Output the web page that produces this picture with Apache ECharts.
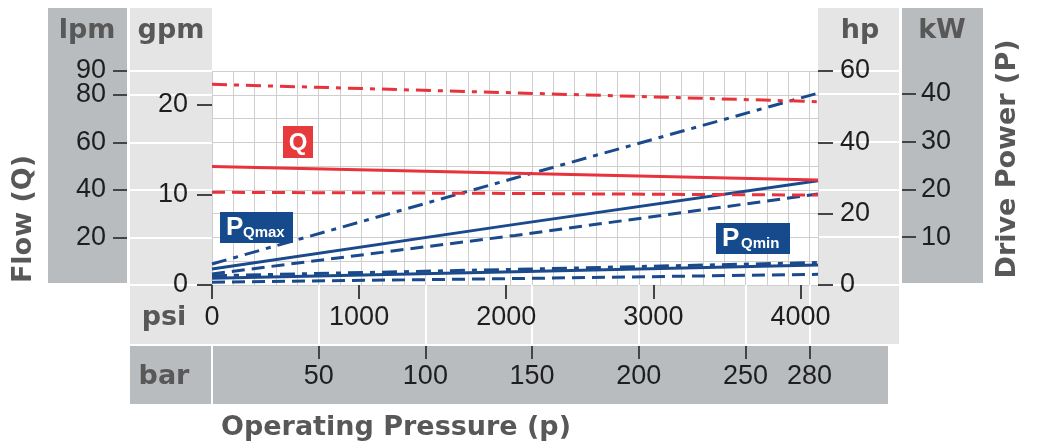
<!DOCTYPE html>
<html><head><meta charset="utf-8">
<script src="https://cdn.jsdelivr.net/npm/echarts@6/dist/echarts.min.js"></script>
<style>html,body{margin:0;padding:0;background:#fff}#c{width:1037px;height:441px}</style>
</head><body><div id="c"></div>
<script>
// ---- data ----
const pressureBar = [0, 142, 284];
// flow, lpm
const flowQmaxLpm = [84.4, 80.8, 77.1];   // red dash-dot
const flowQnomLpm = [49.8, 47.0, 44.2];   // red solid
const flowQminLpm = [39.0, 38.5, 37.8];   // red dashed
// drive power, hp
const powerHiDashDotHp = [5.9, 30.0, 53.8];
const powerHiSolidHp = [4.5, 17.0, 29.2];
const powerHiDashedHp = [3.1, 13.9, 25.5];
const powerLoDashDotHp = [2.6, 4.4, 6.3];
const powerLoSolidHp = [1.9, 3.7, 5.6];
const powerLoDashedHp = [0.8, 1.8, 3.0];
// tick labels
const lpmTicks = [20, 40, 60, 80, 90];
const gpmTicks = [0, 10, 20];
const hpTicks = [0, 20, 40, 60];
const kwTicks = [10, 20, 30, 40];
const psiTicks = [0, 1000, 2000, 3000, 4000];
const barTicks = [50, 100, 150, 200, 250, 280];

const BAR_MAX = 284, PSI_PER_BAR = 14.5037738, LPM_PER_GPM = 3.785411784, KW_PER_HP = 0.745699872;
const LPM_MAX = 90, HP_MAX = 60;

const RED = '#e8323c', BLUE = '#1a4a8c';
const tickFont = {fontFamily: '"Liberation Sans", Arial, sans-serif', fontSize: 27, lineHeight: 20, color: '#1e1e1e',
  formatter: v => String(v), showMaxLabel: true, showMinLabel: true, hideOverlap: false};
const tickLine = {color: '#444', width: 2};
const noLine = {show: false, onZero: false};
const hid = {axisLine: noLine, axisTick: {show: false}, axisLabel: {show: false}};

function ser(name, ys, yAxisIndex, color, type) {
  return {type: 'line', name, xAxisIndex: 1, yAxisIndex, symbol: 'none', silent: true, z: 3,
    data: pressureBar.map((x, i) => [x, ys[i]]),
    lineStyle: {color, width: 3, type}};
}
const DASHDOT = [15, 7, 5, 7], DASH = [13, 7];

const titleFont = 'bold 27px "DejaVu Sans", sans-serif';
const TG = '#585858';
function txt(text, x, y, rot, font) {
  return {type: 'text', x, y, rotation: rot || 0, silent: true, z: 5,
    style: {text, font: font || titleFont, fill: TG, align: 'center', verticalAlign: 'middle'}};
}
function rect(x, y, w, h, fill, z) {
  return {type: 'rect', shape: {x, y, width: w, height: h}, style: {fill}, silent: true, z: z == null ? -10 : z};
}
const LIGHT = '#e5e5e5', DARK = '#b9bcbf';

function visAxis(extra, ticks, len, margin) {
  return Object.assign({type: 'value', axisLine: noLine, splitLine: {show: false},
    axisTick: {show: true, length: len, customValues: ticks, lineStyle: tickLine},
    axisLabel: Object.assign({customValues: ticks, margin}, tickFont)}, extra);
}
// the two top lpm labels sit too close for one axis's overlap check, so split them over two axes
const lpmLower = lpmTicks.filter(v => v < LPM_MAX);
const lpmTop = lpmTicks.filter(v => v >= LPM_MAX);

const option = {
  animation: false,
  grid: [
    {left: 212, top: 71, width: 606, height: 214},
    {left: 130, top: 71, width: 82, height: 214},
    {left: 818, top: 71, width: 84, height: 214},
    {left: 212, top: 285, width: 606, height: 59}
  ],
  xAxis: [
    visAxis({gridIndex: 0, position: 'bottom', min: 0, max: BAR_MAX * PSI_PER_BAR}, psiTicks, 14, 23),
    visAxis({gridIndex: 0, position: 'bottom', offset: 61, min: 0, max: BAR_MAX}, barTicks, 13, 21),
    Object.assign({type: 'value', gridIndex: 0, min: 0, max: BAR_MAX, interval: 10,
      splitLine: {show: true, lineStyle: {color: '#cfcfcf', width: 1}}}, hid),
    {type: 'value', gridIndex: 1, show: false, min: 0, max: 1, axisLine: noLine},
    {type: 'value', gridIndex: 2, show: false, min: 0, max: 1, axisLine: noLine},
    Object.assign({type: 'value', gridIndex: 3, min: 0, max: BAR_MAX,
      splitLine: {show: true, lineStyle: {color: '#ffffff', width: 2}}}, hid,
      {axisTick: {show: false, customValues: barTicks}})
  ],
  yAxis: [
    visAxis({gridIndex: 0, position: 'left', offset: 85, min: 0, max: LPM_MAX}, lpmLower, 14, 21),
    visAxis({gridIndex: 0, position: 'left', offset: 0, min: 0, max: LPM_MAX / LPM_PER_GPM}, gpmTicks, 15, 24),
    visAxis({gridIndex: 0, position: 'right', offset: 0, min: 0, max: HP_MAX}, hpTicks, 15, 22),
    visAxis({gridIndex: 0, position: 'right', offset: 84, min: 0, max: HP_MAX * KW_PER_HP}, kwTicks, 14, 19),
    Object.assign({type: 'value', gridIndex: 0, position: 'left', min: 0, max: LPM_MAX, interval: 10,
      splitLine: {show: true, lineStyle: {color: '#cfcfcf', width: 1}}}, hid),
    Object.assign({type: 'value', gridIndex: 1, min: 0, max: LPM_MAX, interval: 20,
      splitLine: {show: true, lineStyle: {color: '#ffffff', width: 2}}}, hid),
    Object.assign({type: 'value', gridIndex: 2, min: 0, max: HP_MAX * KW_PER_HP, interval: 10,
      splitLine: {show: true, lineStyle: {color: '#ffffff', width: 2}}}, hid),
    {type: 'value', gridIndex: 3, show: false, min: 0, max: 1, axisLine: noLine},
    visAxis({gridIndex: 0, position: 'left', offset: 85, min: 0, max: LPM_MAX}, lpmTop, 14, 21)
  ],
  series: [
    ser('P Qmax dash-dot', powerHiDashDotHp, 2, BLUE, DASHDOT),
    ser('P Qmax solid', powerHiSolidHp, 2, BLUE, 'solid'),
    ser('P Qmax dashed', powerHiDashedHp, 2, BLUE, DASH),
    ser('P Qmin dash-dot', powerLoDashDotHp, 2, BLUE, DASHDOT),
    ser('P Qmin solid', powerLoSolidHp, 2, BLUE, 'solid'),
    ser('P Qmin dashed', powerLoDashedHp, 2, BLUE, DASH),
    ser('Q max', flowQmaxLpm, 0, RED, DASHDOT),
    ser('Q nom', flowQnomLpm, 0, RED, 'solid'),
    ser('Q min', flowQminLpm, 0, RED, DASH)
  ],
  graphic: [
    rect(48, 8, 79, 275, DARK),
    rect(130, 8, 82, 336, LIGHT),
    rect(130, 285, 758, 59, LIGHT),
    rect(818, 8, 81, 336, LIGHT),
    rect(902, 8, 81, 275, DARK),
    rect(130, 346, 758, 58, DARK),
    rect(211, 346, 2, 58, '#ffffff', -9),
    txt('lpm', 87, 31), txt('gpm', 171, 31), txt('hp', 860, 31), txt('kW', 942, 31),
    txt('psi', 164, 318), txt('bar', 164, 377),
    txt('Flow (Q)', 24, 219, Math.PI / 2),
    txt('Drive Power (P)', 1008, 159, Math.PI / 2),
    txt('Operating Pressure (p)', 396, 428),
    rect(283, 126, 30, 32, '#e63a3c', 6),
    {type: 'text', x: 298, y: 143, z: 7, silent: true, style: {text: 'Q', font: 'bold 24px "Liberation Sans", Arial', fill: '#fff', align: 'center', verticalAlign: 'middle'}},
    rect(220, 212, 73, 31, '#154a8c', 6),
    {type: 'text', x: 226, y: 228, z: 7, silent: true, style: {text: 'P', font: 'bold 26px "Liberation Sans", Arial', fill: '#fff', align: 'left', verticalAlign: 'middle'}},
    {type: 'text', x: 243, y: 233, z: 7, silent: true, style: {text: 'Qmax', font: 'bold 15px "Liberation Sans", Arial', fill: '#fff', align: 'left', verticalAlign: 'middle'}},
    rect(716, 223, 74, 31, '#154a8c', 6),
    {type: 'text', x: 722, y: 239, z: 7, silent: true, style: {text: 'P', font: 'bold 26px "Liberation Sans", Arial', fill: '#fff', align: 'left', verticalAlign: 'middle'}},
    {type: 'text', x: 741, y: 244, z: 7, silent: true, style: {text: 'Qmin', font: 'bold 15px "Liberation Sans", Arial', fill: '#fff', align: 'left', verticalAlign: 'middle'}}
  ]
};
const chart = echarts.init(document.getElementById('c'), null, {renderer: 'canvas'});
chart.setOption(option);
</script>
</body></html>
